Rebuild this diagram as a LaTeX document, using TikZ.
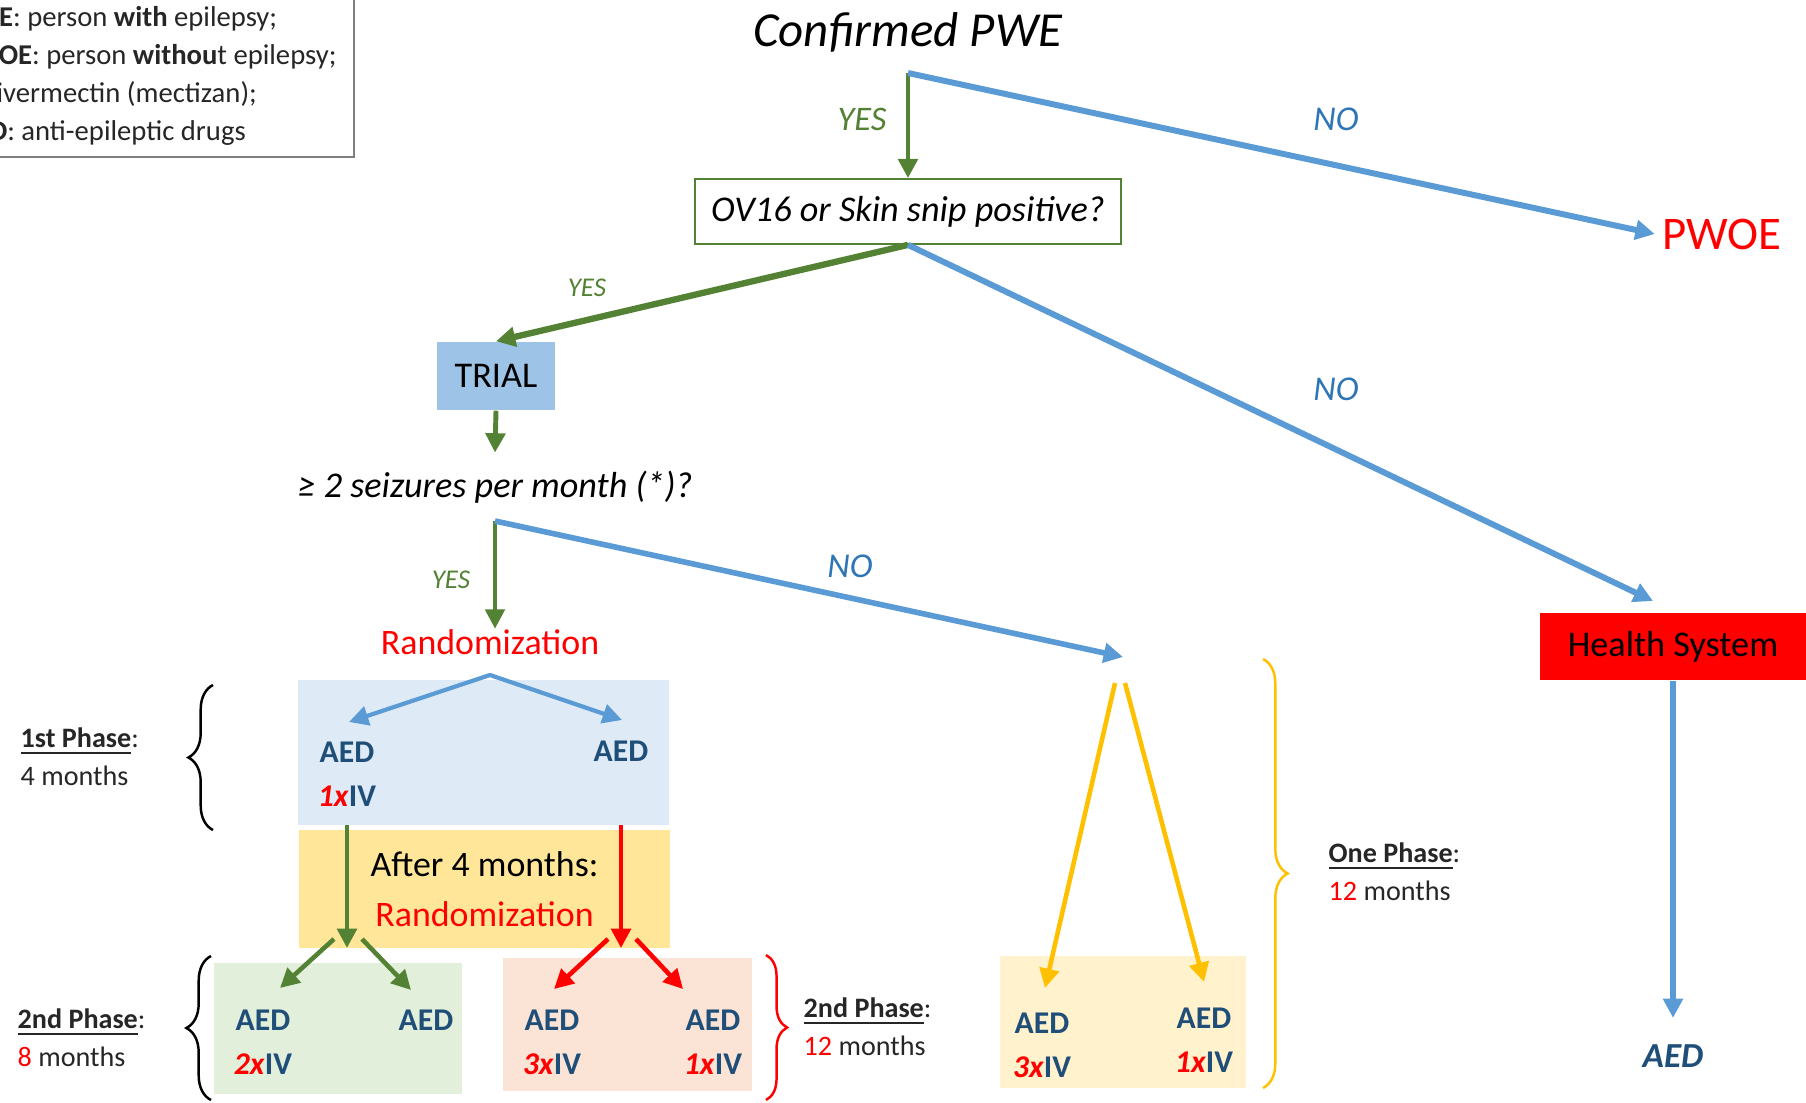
\documentclass[tikz,border=0pt]{standalone}
\usepackage{fontspec}
\setmainfont{Carlito}
\usepackage{xcolor}
\usepackage{tikz}
\usetikzlibrary{arrows.meta,positioning,decorations.pathreplacing}
\definecolor{armgreen}{RGB}{84,130,53}
\definecolor{armblue}{RGB}{91,155,213}
\definecolor{armred}{RGB}{255,0,0}
\definecolor{armgold}{RGB}{255,192,0}
\definecolor{noblue}{RGB}{46,117,182}
\definecolor{aedblue}{RGB}{31,78,121}
\definecolor{phaseblue}{RGB}{222,235,247}
\definecolor{trialblue}{RGB}{157,195,230}
\definecolor{aftergold}{RGB}{255,230,153}
\definecolor{phasegreen}{RGB}{226,239,218}
\definecolor{phasepeach}{RGB}{251,228,213}
\definecolor{phasecream}{RGB}{255,242,204}
\definecolor{keygray}{RGB}{127,127,127}
\definecolor{textgray}{RGB}{38,38,38}
\newcommand{\ivdose}[1]{\textcolor{armred}{\textit{#1x}}IV}
\tikzset{
  % YES / NO on the arrows
  yeslab/.style={font=\fontsize{9.8}{12}\selectfont\itshape, text=armgreen},
  yessmall/.style={yeslab, font=\fontsize{7.7}{9}\selectfont\itshape},
  nolab/.style={font=\fontsize{9.9}{12}\selectfont\itshape, text=noblue},
  % coloured areas
  area/.style={inner sep=0pt, outer sep=0pt},
  % AED labels inside the areas
  aed/.style={font=\fontsize{9}{11}\selectfont\bfseries, text=aedblue, inner sep=0pt},
  % phase notes
  phasenote/.style={anchor=west, align=left, inner sep=0pt, font=\fontsize{8}{10.8}\selectfont, text=textgray},
  % braces
  phasebrace/.style={decorate, decoration={brace, amplitude=7pt}, line width=0.7pt},
  % arrows
  arr/.style={-{Triangle[length=5.5pt, width=5.5pt]}, line width=1.3pt},
  twoarr/.style={{Triangle[length=5.5pt, width=5.5pt]}-{Triangle[length=5.5pt, width=5.5pt]}, line width=1.2pt, line join=round},
}

\begin{document}
\begin{tikzpicture}[x=0.01cm, y=-0.01cm]
  % Page
  \useasboundingbox (0, 0) rectangle (1806, 1103);
  \clip (0, 0) rectangle (1806, 1103);

  % Legend
  \node[draw=keygray, line width=0.5pt, anchor=south east, align=left, inner xsep=5pt, inner ysep=3.4pt,
        font=\fontsize{8.15}{10.8}\selectfont, text=textgray] (key) at (355, 158)
    {\textbf{PWE}: person \textbf{with} epilepsy;\\
     \textbf{PWOE}: person \textbf{withou}t epilepsy;\\
     \textbf{IV}: ivermectin (mectizan);\\
     \textbf{AED}: anti-epileptic drugs};

  % Screening
  \node[font=\fontsize{13.9}{16}\selectfont\itshape] (pwe) at (908, 32) {Confirmed PWE};
  \coordinate (pweFork) at (908, 73);
  \node[draw=armgreen, line width=0.5pt, fill=white, minimum width=4.26cm, minimum height=0.65cm,
        font=\fontsize{10.3}{12}\selectfont\itshape] (ovtest) at (908, 211.5) {OV16 or Skin snip positive?};
  \node[font=\fontsize{13.3}{16}\selectfont, text=armred, inner sep=2pt] (pwoe) at (1722, 234) {PWOE};
  \draw[arr, armgreen, line width=1.4pt] (pweFork) -- (ovtest.north);
  \draw[arr, armblue, line width=1.7pt] (pweFork) -- (pwoe.west);
  \node[yeslab] (yes1) at (862, 119) {YES};
  \node[nolab] (no1) at (1336, 119) {NO};

  % Trial or health system
  \node[fill=trialblue, minimum width=1.18cm, minimum height=0.68cm, font=\fontsize{10.3}{12}\selectfont] (trial) at (496, 376) {TRIAL};
  \node[fill=armred, minimum width=2.66cm, minimum height=0.67cm, font=\fontsize{10.3}{12}\selectfont] (health) at (1673, 646.5) {Health System};
  \coordinate (hsIn) at (1653, 601);
  \draw[arr, armgreen, line width=1.8pt] (ovtest.south) -- (trial.north);
  \draw[arr, armblue, line width=1.7pt] (ovtest.south) -- (hsIn);
  \node[yessmall] (yes2) at (587, 288) {YES};
  \node[nolab] (no2) at (1336, 389) {NO};

  % Seizure frequency
  \node[font=\fontsize{10.3}{12}\selectfont\itshape, inner xsep=0pt, inner ysep=5pt] (seiz) at (495, 487) {≥ 2 seizures per month (*)?};
  \draw[arr, armgreen, line width=1.4pt] (trial.south) -- (seiz.north);
  \coordinate (seizFork) at (495, 521);
  \node[font=\fontsize{10.2}{12}\selectfont, text=armred, inner sep=0pt] (rand) at (490, 642) {Randomization};
  \coordinate (ovIn) at (1123, 657);
  \draw[arr, armgreen, line width=1.1pt] (seizFork) -- (seizFork |- rand.north);
  \draw[arr, armblue, line width=1.6pt] (seizFork) -- (ovIn);
  \node[yessmall] (yes3) at (451, 580) {YES};
  \node[nolab] (no3) at (850, 566) {NO};

  % 1st phase: 4 months
  \node[area, fill=phaseblue, minimum width=3.71cm, minimum height=1.45cm] (p1box) at (483.5, 752.5) {};
  \node[area, fill=aftergold, minimum width=3.71cm, minimum height=1.18cm, align=center,
        font=\fontsize{10.2}{14.2}\selectfont] (after4) at (484.5, 889) {After 4 months:\\\textcolor{armred}{Randomization}};
  \coordinate (p1Fork) at (490, 675);
  \coordinate (p1Lin) at (349, 722);
  \coordinate (p1Rin) at (622, 720);
  \draw[twoarr, armblue] (p1Lin) -- (p1Fork) -- (p1Rin);
  \node[aed] (p1aedL) at (347, 752) {AED};
  \node[aed] (p1aedR) at (621, 751) {AED};
  \node[aed] (p1ivL) at (347, 796) {\ivdose{1}};
  \draw[phasebrace] (213, 830) -- (213, 685);
  \node[phasenote] (ph1) at (20, 757) {\underline{\textbf{1st Phase}}:\\4 months};

  % 2nd phase: 8 or 12 months
  \node[area, fill=phasegreen, minimum width=2.48cm, minimum height=1.31cm] (p2gbox) at (338, 1028.5) {};
  \node[area, fill=phasepeach, minimum width=2.49cm, minimum height=1.33cm] (p2rbox) at (627.5, 1024.5) {};
  \coordinate (gFork) at (347, 948);
  \coordinate (rFork) at (621, 948);
  \draw[arr, armgreen] (p1aedL |- p1box.south) -- (gFork);
  \draw[arr, armred] (p1aedR |- p1box.south) -- (rFork);
  \coordinate (gL0) at (334, 939);
  \coordinate (gL1) at (280, 988);
  \coordinate (gR0) at (362, 939);
  \coordinate (gR1) at (411, 990);
  \coordinate (rL0) at (608, 939);
  \coordinate (rL1) at (554, 989);
  \coordinate (rR0) at (636, 939);
  \coordinate (rR1) at (683, 989);
  \draw[arr, armgreen] (gL0) -- (gL1);
  \draw[arr, armgreen] (gR0) -- (gR1);
  \draw[arr, armred] (rL0) -- (rL1);
  \draw[arr, armred] (rR0) -- (rR1);
  \node[aed] (p2aedA) at (263, 1020) {AED};
  \node[aed] (p2aedB) at (426, 1020) {AED};
  \node[aed] (p2ivA) at (263, 1064) {\ivdose{2}};
  \node[aed] (p2aedC) at (552, 1020) {AED};
  \node[aed] (p2aedD) at (713, 1020) {AED};
  \node[aed] (p2ivC) at (552, 1064) {\ivdose{3}};
  \node[aed] (p2ivD) at (713, 1064) {\ivdose{1}};
  \draw[phasebrace] (211, 1100) -- (211, 956);
  \node[phasenote] (ph2) at (17, 1038) {\underline{\textbf{2nd Phase}}:\\\textcolor{armred}{8} months};
  \draw[phasebrace, armred, decoration={brace, amplitude=6pt}] (766, 955) -- (766, 1100);
  \node[phasenote] (ph2r) at (803, 1027) {\underline{\textbf{2nd Phase}}:\\\textcolor{armred}{12} months};

  % One phase: 12 months
  \node[area, fill=phasecream, minimum width=2.46cm, minimum height=1.32cm] (opbox) at (1123, 1022) {};
  \coordinate (oL0) at (1115, 683);
  \coordinate (oL1) at (1045, 988);
  \coordinate (oR0) at (1125, 683);
  \coordinate (oR1) at (1204, 982);
  \draw[arr, armgold] (oL0) -- (oL1);
  \draw[arr, armgold] (oR0) -- (oR1);
  \node[aed] (opaedL) at (1042, 1023) {AED};
  \node[aed] (opaedR) at (1204, 1018) {AED};
  \node[aed] (opivL) at (1042, 1067) {\ivdose{3}};
  \node[aed] (opivR) at (1204, 1062) {\ivdose{1}};
  \draw[phasebrace, armgold] (1263, 659) -- (1263, 1088);
  \node[phasenote] (ph3) at (1328, 872) {\underline{\textbf{One Phase}}:\\\textcolor{armred}{12} months};

  % Health system route
  \node[aed, font=\fontsize{10}{12}\selectfont\bfseries\itshape, inner ysep=7.4pt] (hsaed) at (1673, 1056) {AED};
  \draw[arr, armblue, line width=1.6pt] (health.south) -- (hsaed.north);
\end{tikzpicture}
\end{document}
